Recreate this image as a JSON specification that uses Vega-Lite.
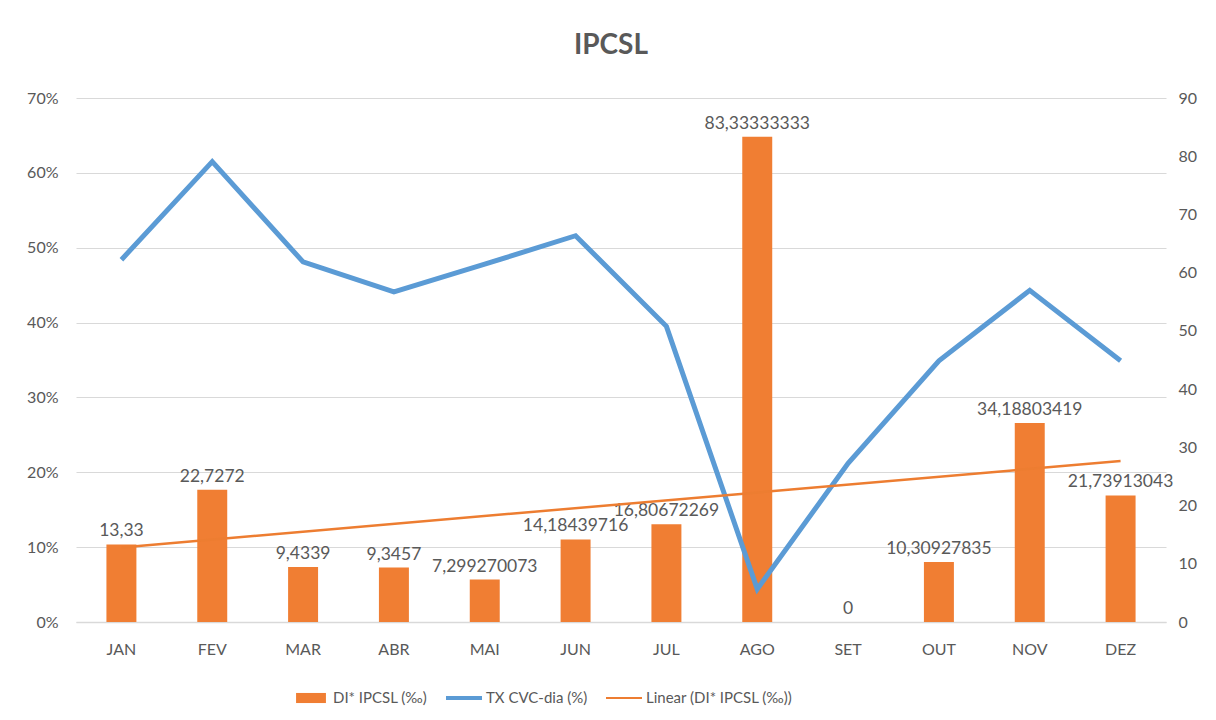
{
  "$schema": "https://vega.github.io/schema/vega-lite/v6.json",
  "autosize": "none",
  "width": 1090,
  "height": 524,
  "padding": {"left": 76, "top": 98, "right": 50, "bottom": 98},
  "background": "white",
  "title": {"text": "IPCSL", "fontSize": 28, "fontWeight": "bold", "color": "#595959", "font": "Lato", "offset": 30, "anchor": "middle", "dx": -10},
  "datasets": {
    "main": [
      {"month": "JAN", "idx": 1, "di": 13.33, "label": "13,33", "tx": 0.484},
      {"month": "FEV", "idx": 2, "di": 22.7272, "label": "22,7272", "tx": 0.615},
      {"month": "MAR", "idx": 3, "di": 9.4339, "label": "9,4339", "tx": 0.481},
      {"month": "ABR", "idx": 4, "di": 9.3457, "label": "9,3457", "tx": 0.441},
      {"month": "MAI", "idx": 5, "di": 7.299270073, "label": "7,299270073", "tx": 0.478},
      {"month": "JUN", "idx": 6, "di": 14.18439716, "label": "14,18439716", "tx": 0.516},
      {"month": "JUL", "idx": 7, "di": 16.80672269, "label": "16,80672269", "tx": 0.395},
      {"month": "AGO", "idx": 8, "di": 83.33333333, "label": "83,33333333", "tx": 0.044},
      {"month": "SET", "idx": 9, "di": 0, "label": "0", "tx": 0.212},
      {"month": "OUT", "idx": 10, "di": 10.30927835, "label": "10,30927835", "tx": 0.349},
      {"month": "NOV", "idx": 11, "di": 34.18803419, "label": "34,18803419", "tx": 0.443},
      {"month": "DEZ", "idx": 12, "di": 21.73913043, "label": "21,73913043", "tx": 0.349}
    ]
  },
  "data": {"name": "main"},
  "config": {
    "font": "Lato",
    "view": {"stroke": null},
    "axis": {"labelFont": "Lato", "labelFontSize": 16, "labelColor": "#595959", "ticks": false, "domain": false, "title": null},
    "legend": {
      "orient": "none",
      "legendX": 217,
      "legendY": 582,
      "direction": "horizontal",
      "labelFont": "Lato",
      "labelFontSize": 15,
      "labelColor": "#595959",
      "columnPadding": 18,
      "symbolSize": 1296,
      "labelOffset": 4
    }
  },
  "encoding": {
    "x": {
      "field": "month",
      "type": "nominal",
      "scale": {"domain": ["JAN","FEV","MAR","ABR","MAI","JUN","JUL","AGO","SET","OUT","NOV","DEZ"], "paddingInner": 0, "paddingOuter": 0},
      "axis": {"labelAngle": 0, "labelPadding": 19, "domain": true, "domainColor": "#D9D9D9", "domainWidth": 1.5, "grid": false}
    }
  },
  "layer": [
    {
      "encoding": {
        "y": {"field": "di", "type": "quantitative", "scale": {"domain": [0, 90], "nice": false}, "axis": {"orient": "right", "values": [0,10,20,30,40,50,60,70,80,90], "labelPadding": 12, "grid": false}}
      },
      "layer": [
        {
          "mark": {"type": "bar", "width": {"band": 0.33}},
          "encoding": {
            "color": {
              "datum": "DI* IPCSL (‰)",
              "type": "nominal",
              "scale": {"domain": ["DI* IPCSL (‰)", "TX CVC-dia (%)", "Linear (DI* IPCSL (‰))"], "range": ["#F07E33", "#5B9BD5", "#ED7D31"]},
              "legend": {
                "title": null,
                "encode": {
                  "symbols": {
                    "update": {
                      "shape": {"signal": "datum.value === 'DI* IPCSL (‰)' ? 'M-0.83,-0.28H0.83V0.28H-0.83Z' : (datum.value === 'TX CVC-dia (%)' ? 'M-1,-0.11H1V0.11H-1Z' : 'M-1,-0.055H1V0.055H-1Z')"},
                      "fill": {"scale": "color", "field": "value"},
                      "stroke": {"value": null},
                      "strokeWidth": {"value": 0},
                      "opacity": {"value": 1},
                      "fillOpacity": {"value": 1}
                    }
                  }
                }
              }
            }
          }
        },
        {
          "mark": {"type": "text", "baseline": "bottom", "dy": -4, "fontSize": 17.5, "color": "#595959", "font": "Lato"},
          "encoding": {"text": {"field": "label"}}
        }
      ]
    },
    {
      "mark": {"type": "line", "strokeWidth": 5, "strokeJoin": "miter"},
      "encoding": {
        "y": {"field": "tx", "type": "quantitative", "scale": {"domain": [0, 0.7], "nice": false}, "axis": {"orient": "left", "format": ".0%", "values": [0,0.1,0.2,0.3,0.4,0.5,0.6,0.7], "labelPadding": 18, "grid": true, "gridColor": "#D9D9D9", "gridWidth": 1}},
        "color": {"datum": "TX CVC-dia (%)", "type": "nominal"}
      }
    },
    {
      "transform": [
        {"regression": "di", "on": "idx"},
        {"lookup": "idx", "from": {"data": {"name": "main"}, "key": "idx", "fields": ["month"]}}
      ],
      "mark": {"type": "line", "strokeWidth": 2.5},
      "encoding": {
        "y": {"field": "di", "type": "quantitative", "scale": {"domain": [0, 90], "nice": false}, "axis": null},
        "color": {"datum": "Linear (DI* IPCSL (‰))", "type": "nominal"}
      }
    }
  ],
  "resolve": {"scale": {"y": "independent"}}
}
